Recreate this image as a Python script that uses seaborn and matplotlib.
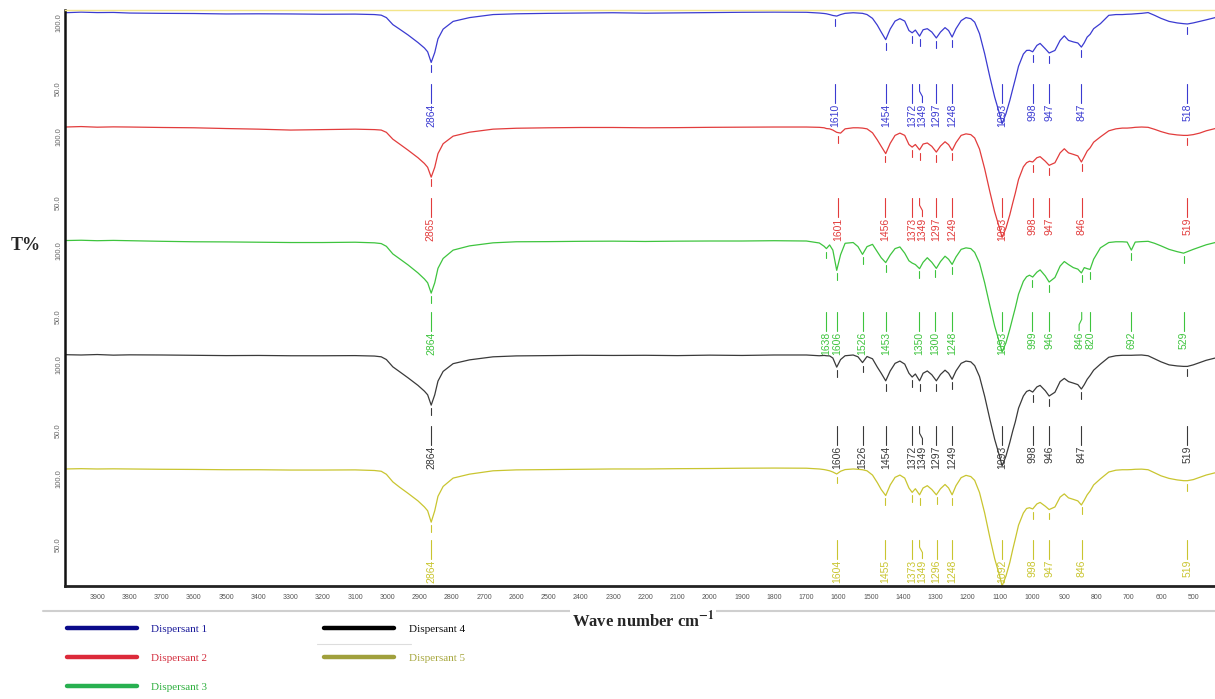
import numpy as np
import pandas as pd
import matplotlib
matplotlib.use("Agg")
import matplotlib.pyplot as plt
from matplotlib.lines import Line2D
import seaborn as sns

# ---------------- data ----------------
WN = [4000, 3950, 3900, 3850, 3800, 3700, 3600, 3500, 3400, 3300,
      3200, 3100, 3040, 3019, 3003, 2983, 2962, 2936, 2905, 2885,
      2875, 2864, 2853, 2843, 2827, 2796, 2745, 2672, 2600, 2500,
      2400, 2300, 2200, 2100, 2000, 1900, 1800, 1700, 1660, 1645,
      1638, 1628, 1618, 1606, 1594, 1580, 1555, 1540, 1526, 1512,
      1495, 1480, 1468, 1454, 1440, 1425, 1410, 1395, 1382, 1372,
      1362, 1349, 1338, 1325, 1311, 1297, 1284, 1270, 1259, 1248,
      1236, 1220, 1205, 1190, 1178, 1163, 1147, 1131, 1116, 1101,
      1093, 1081, 1069, 1060, 1052, 1042, 1027, 1017, 1008, 998,
      985, 975, 959, 947, 929, 913, 900, 887, 872, 858,
      847, 838, 829, 820, 809, 788, 762, 740, 720, 705,
      692, 680, 660, 640, 620, 600, 575, 550, 530, 518,
      500, 480, 460, 432]

T_D1 = [100.2, 100.6, 100.3, 100.4, 100.0, 99.8, 99.7, 99.4, 99.5, 99.4,
        99.2, 99.3, 99.0, 98.6, 97.0, 92.4, 89.4, 85.6, 80.6, 77.0,
        74.5, 67.5, 74.0, 83.0, 89.4, 94.5, 97.0, 99.0, 99.5, 99.8,
        100.0, 100.2, 99.9, 100.1, 100.3, 100.5, 100.6, 100.5, 100.0, 99.7,
        99.5, 99.0, 98.4, 98.0, 99.0, 99.8, 100.2, 100.0, 99.8, 99.0,
        96.5, 92.0, 87.5, 82.5, 89.5, 94.7, 96.3, 94.7, 88.5, 87.0,
        88.8, 84.8, 89.0, 89.7, 87.5, 83.6, 87.5, 90.4, 88.5, 84.2,
        89.7, 95.0, 97.0, 96.3, 94.0, 86.4, 73.2, 58.0, 44.7, 33.8,
        27.2, 33.8, 42.5, 50.0, 56.5, 65.0, 73.0, 75.4, 75.5, 74.5,
        78.7, 80.0, 76.5, 73.7, 75.4, 82.0, 85.0, 82.0, 81.0, 80.3,
        77.6, 80.5, 84.2, 86.0, 89.7, 93.0, 98.5, 99.0, 99.0, 99.2,
        99.3, 99.5, 99.8, 100.3, 98.5, 96.5, 94.5, 93.5, 93.0, 92.8,
        93.5, 94.5, 95.5, 97.0]

T_D2 = [100.0, 100.3, 99.9, 100.1, 100.0, 99.7, 99.5, 99.0, 98.6, 98.0,
        98.3, 98.6, 98.3, 98.0, 96.5, 92.0, 88.8, 84.8, 79.8, 76.0,
        73.5, 67.0, 73.5, 82.5, 89.0, 94.0, 96.6, 98.6, 99.2, 99.5,
        99.7, 99.7, 99.5, 99.6, 99.8, 99.9, 100.0, 100.0, 99.8, 99.5,
        99.0, 98.8, 98.0, 96.5, 96.0, 98.8, 99.5, 99.5, 99.3, 98.8,
        96.2, 91.5, 87.3, 82.5, 89.3, 94.5, 96.0, 94.5, 88.5, 86.8,
        88.5, 85.0, 88.8, 89.5, 87.3, 83.5, 87.5, 90.3, 88.4, 84.6,
        89.7, 94.5, 95.5, 95.0, 92.8, 85.5, 72.5, 57.5, 44.2, 33.5,
        27.4, 33.5, 42.3, 50.0, 56.5, 65.5, 73.8, 76.5, 77.5, 77.0,
        79.8, 80.5, 77.5, 74.8, 76.5, 83.0, 85.7, 83.0, 82.0, 81.0,
        77.0, 80.5, 84.2, 86.3, 90.0, 93.5, 97.5, 98.8, 99.3, 99.3,
        99.5, 99.8, 100.0, 99.8, 98.5, 97.0, 95.5, 94.8, 94.5, 94.5,
        95.0, 96.0, 97.5, 99.0]

T_D3 = [100.3, 100.5, 100.2, 100.4, 100.2, 99.8, 99.5, 99.4, 99.2, 99.0,
        99.0, 99.2, 98.8, 98.3, 96.5, 91.5, 88.3, 84.3, 79.0, 75.0,
        72.5, 65.7, 72.5, 82.0, 88.5, 94.0, 96.8, 98.8, 99.5, 99.6,
        99.8, 99.9, 99.7, 99.9, 100.0, 100.0, 100.2, 100.0, 98.7, 96.5,
        95.0, 97.4, 94.0, 80.7, 91.0, 98.5, 99.0, 96.3, 91.2, 96.3,
        97.8, 92.9, 89.0, 85.8, 90.8, 95.0, 96.1, 92.0, 87.0, 85.5,
        84.5, 81.8, 86.0, 89.0, 86.0, 82.0, 86.5, 90.0, 88.0, 84.6,
        89.5, 94.5, 95.5, 95.0, 92.5, 85.5, 72.5, 57.5, 44.0, 33.0,
        27.0, 33.0, 42.0, 49.5, 56.0, 65.0, 73.5, 76.5, 77.5, 76.3,
        79.5, 81.0, 77.0, 73.0, 76.0, 83.5, 86.5, 84.5, 82.5, 81.5,
        79.0, 82.5, 81.8, 81.3, 88.0, 95.5, 99.0, 99.5, 99.5, 99.3,
        94.0, 99.3, 99.6, 99.8, 98.5, 96.8, 94.5, 93.0, 92.0, 93.0,
        94.5, 96.0, 97.5, 99.0]

T_D4 = [100.2, 100.0, 100.3, 99.9, 100.1, 100.0, 99.8, 99.6, 99.7, 99.5,
        99.5, 99.6, 99.3, 98.8, 97.0, 92.2, 89.0, 85.0, 80.0, 76.2,
        73.8, 67.0, 73.8, 82.8, 89.2, 94.3, 96.8, 98.8, 99.4, 99.6,
        99.8, 99.7, 99.8, 99.6, 99.9, 99.7, 100.0, 100.0, 99.5, 99.7,
        99.5, 99.4, 98.0, 92.0, 97.0, 99.5, 100.0, 98.8, 95.0, 99.0,
        97.5, 92.0, 88.0, 83.0, 89.5, 94.5, 96.0, 94.0, 88.0, 85.5,
        87.5, 83.0, 88.0, 89.5, 87.0, 83.0, 87.2, 90.0, 88.0, 84.0,
        89.5, 94.5, 96.0, 95.5, 93.0, 85.8, 72.8, 57.8, 44.5, 33.5,
        27.0, 33.5, 42.5, 50.0, 56.0, 65.0, 73.0, 76.0, 76.8, 75.6,
        79.0, 80.0, 76.5, 73.0, 75.5, 82.5, 84.6, 82.5, 81.5, 80.5,
        77.6, 80.5, 84.0, 86.5, 90.0, 94.0, 98.5, 99.5, 99.8, 99.8,
        99.8, 99.9, 100.0, 99.5, 97.5, 95.5, 93.5, 92.8, 92.5, 92.5,
        93.5, 95.0, 96.5, 98.0]

T_D5 = [100.0, 100.2, 100.0, 100.1, 100.0, 99.8, 99.7, 99.5, 99.5, 99.3,
        99.3, 99.4, 99.0, 98.5, 96.5, 91.5, 88.0, 84.0, 79.0, 75.0,
        72.5, 65.0, 72.5, 82.0, 88.5, 94.0, 96.6, 98.8, 99.4, 99.6,
        99.8, 100.0, 100.0, 100.2, 100.3, 100.5, 100.6, 100.5, 100.0, 99.6,
        99.3, 98.8, 98.0, 96.7, 98.5, 99.6, 100.0, 99.8, 99.5, 98.8,
        96.0, 91.0, 86.5, 82.5, 89.5, 94.5, 96.0, 94.0, 87.5, 84.6,
        87.0, 83.0, 87.5, 89.0, 86.5, 83.0, 87.0, 89.8, 87.5, 83.0,
        89.0, 94.3, 95.8, 95.0, 92.5, 84.5, 71.0, 55.0, 41.0, 30.0,
        23.0, 29.5, 38.5, 47.0, 54.0, 63.0, 71.0, 74.0, 74.5, 73.7,
        77.0, 78.0, 75.5, 73.3, 75.0, 81.5, 83.6, 81.0, 80.0, 79.0,
        76.3, 79.5, 83.0, 85.5, 89.5, 93.5, 98.0, 99.2, 99.5, 99.5,
        99.6, 99.8, 99.9, 99.5, 97.5, 95.5, 93.8, 92.8, 92.3, 92.3,
        93.0, 94.5, 96.0, 97.5]

PEAKS_D1 = [2864, 1610, 1454, 1372, 1349, 1297, 1248, 1093, 998, 947, 847, 518]
PEAKS_D2 = [2865, 1601, 1456, 1373, 1349, 1297, 1249, 1093, 998, 947, 846, 519]
PEAKS_D3 = [2864, 1638, 1606, 1526, 1453, 1350, 1300, 1248, 1093, 999, 946, 846, 820, 692, 529]
PEAKS_D4 = [2864, 1606, 1526, 1454, 1372, 1349, 1297, 1249, 1093, 998, 946, 847, 519]
PEAKS_D5 = [2864, 1604, 1455, 1373, 1349, 1296, 1248, 1092, 998, 947, 846, 519]

SERIES = ["Dispersant 1", "Dispersant 2", "Dispersant 3", "Dispersant 4", "Dispersant 5"]
X_TICKS = list(range(3900, 499, -100))
Y_TICK_VALUES = [50, 100]
Y_TICK_LABELS = ["50.0", "100.0"]

# ---------------- styling ----------------
sns.set_style("white")
plt.rcParams["font.family"] = ["Liberation Sans", "DejaVu Sans"]
plt.rcParams["mathtext.fontset"] = "stix"

TRACE_COLORS = ["#3b3bd1", "#e23c3c", "#3ec43e", "#3a3a3a", "#c9c530"]
LEGEND_COLORS = ["#0a0a8a", "#dc2a3a", "#28b050", "#000000", "#a0a03c"]
LEGEND_TEXT = ["#1a1a9a", "#d43040", "#30b040", "#101010", "#a8a840"]
OFFSETS = [300, 225, 150, 75, 0]
LABEL_NUDGE = {1349: -9}
LABEL_NUDGE_D3 = {846: 8}

T_ALL = [T_D1, T_D2, T_D3, T_D4, T_D5]
PEAKS_ALL = [PEAKS_D1, PEAKS_D2, PEAKS_D3, PEAKS_D4, PEAKS_D5]

frames = []
for name, t, off in zip(SERIES, T_ALL, OFFSETS):
    frames.append(pd.DataFrame({"wn": WN, "y": np.array(t) + off, "series": name}))
df = pd.concat(frames, ignore_index=True)

W, H = 1215, 699
fig = plt.figure(figsize=(W / 100, H / 100), dpi=100)
ax = fig.add_axes([65 / W, 1 - 586 / H, 1 - 65 / W, (586 - 10) / H])

sns.lineplot(data=df, x="wn", y="y", hue="series", hue_order=SERIES,
             palette=TRACE_COLORS, estimator=None, sort=False, legend=False,
             lw=0.9, ax=ax)

ax.set_xlim(4000, 432.5)
ax.set_ylim(23, 402)

# peak annotations
lab_font = dict(family=["Liberation Sans Narrow", "Liberation Sans", "DejaVu Sans"], size=7.5)
wn_asc = np.array(WN)[::-1]
for i, (t, peaks, off, col) in enumerate(zip(T_ALL, PEAKS_ALL, OFFSETS, TRACE_COLORS)):
    t_asc = np.array(t)[::-1]
    for p in peaks:
        tp = np.interp(p, wn_asc, t_asc)
        if tp > 45:
            ax.plot([p, p], [off + tp - 2.0, off + tp - 6.5], color=col, lw=0.8)
        lx = p + LABEL_NUDGE.get(p, 0)
        if i == 2:
            lx = p + LABEL_NUDGE_D3.get(p, 0) + LABEL_NUDGE.get(p, 0)
        if lx != p:
            ax.plot([p, p, lx, lx], [off + 53, off + 48.5, off + 45, off + 41],
                    color=col, lw=0.8)
        else:
            ax.plot([p, p], [off + 53, off + 41], color=col, lw=0.8)
        ax.text(lx, off + 40.5, str(p), rotation=90, ha="center", va="top",
                color=col, fontdict=lab_font)

# axes ticks
ax.set_xticks(X_TICKS)
ax.set_xticklabels([str(v) for v in X_TICKS], fontsize=5, color="#555555")
ax.tick_params(axis="x", direction="out", length=3, width=0.8, color="#333333", pad=3)

yt, yl = [], []
for off in OFFSETS:
    for v, s in zip(Y_TICK_VALUES, Y_TICK_LABELS):
        yt.append(off + v)
        yl.append(s)
ax.set_yticks(yt)
ax.set_yticklabels(yl, rotation=90, fontsize=5.5, color="#666666")
ax.tick_params(axis="y", length=0, pad=2)
for lab, s in zip(ax.get_yticklabels(), yl):
    lab.set_va("top" if s == "100.0" else "center")

ax.set_xlabel("")
ax.set_ylabel("")
ax.spines["right"].set_visible(False)
ax.spines["left"].set_color("#111111")
ax.spines["left"].set_linewidth(1.8)
ax.spines["bottom"].set_color("#222222")
ax.spines["bottom"].set_linewidth(2.0)
ax.spines["top"].set_color("#f3e58a")
ax.spines["top"].set_linewidth(1.0)

# figure-level decorations
fig.add_artist(Line2D([43 / W, 1.0], [1 - 611 / H] * 2, color="#cfcfcf", lw=1.5))
fig.add_artist(Line2D([317 / W, 411 / W], [1 - 644 / H] * 2, color="#dddddd", lw=0.8))
fig.text(26 / W, 1 - 245 / H, "T%", ha="center", va="center", fontsize=13,
         fontweight="bold", family="Liberation Serif")
fig.text(643 / W, 1 - 620 / H, r"Wave number cm$^{\mathbf{-1}}$", ha="center",
         va="center", fontsize=12, fontweight="bold", family="Liberation Serif",
         bbox=dict(facecolor="white", edgecolor="none", pad=1))

handles = [Line2D([0], [0], color=c, lw=3.2, solid_capstyle="round") for c in LEGEND_COLORS]
leg = fig.legend(handles, SERIES, ncol=2, loc="upper left",
                 bbox_to_anchor=(67 / W, 1 - 624 / H), frameon=False,
                 handlelength=6.3, handletextpad=1.3, columnspacing=10.5,
                 labelspacing=1.75, borderaxespad=0, borderpad=0,
                 prop={"family": "Liberation Serif", "size": 8})
for txt, c in zip(leg.get_texts(), LEGEND_TEXT):
    txt.set_color(c)

fig.savefig("out.png", dpi=100)
